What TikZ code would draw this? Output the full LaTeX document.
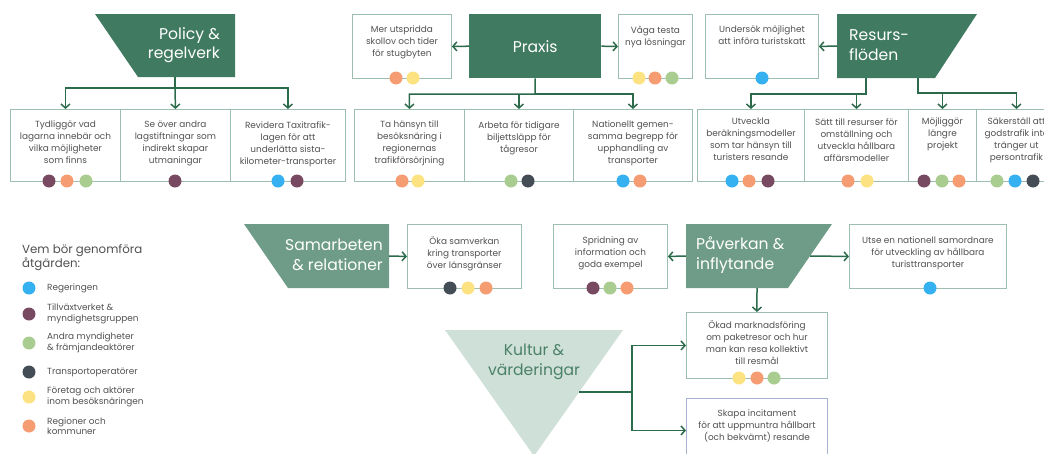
\documentclass[tikz,border=0pt]{standalone}
\usepackage{fontspec}
\setmainfont{Poppins}
\usetikzlibrary{arrows.meta, calc}

\definecolor{darkgreen}{HTML}{3F7A61}
\definecolor{midgreen}{HTML}{6F9C88}
\definecolor{lightgreen}{HTML}{CEE0D7}
\definecolor{kulturtext}{HTML}{4C8169}
\definecolor{conngreen}{HTML}{2C6A4C}
\definecolor{boxline}{HTML}{9DBFAF}
\definecolor{skapaline}{HTML}{A8B2D2}
\definecolor{txtgrey}{HTML}{505050}
\definecolor{cblue}{HTML}{35B0F0}
\definecolor{cpurple}{HTML}{774A62}
\definecolor{cgreen}{HTML}{A9CD91}
\definecolor{cdark}{HTML}{444C55}
\definecolor{cyellow}{HTML}{FCE281}
\definecolor{corange}{HTML}{F69C72}

\begin{document}
\begin{tikzpicture}[x=1pt, y=-1pt,
  every node/.style={inner sep=0pt},
  conn/.style={draw=conngreen, line width=1.5pt, -{Straight Barb[length=4pt,width=9pt]}},
  actbox/.style={draw=boxline, line width=0.9pt, minimum height=#1, anchor=north west},
  actbox/.default=72pt,
  acttext/.style={anchor=north, align=center, text=txtgrey, font=\fontsize{8.9}{12}\selectfont},
  head/.style={text=white, font=\fontsize{15.6}{19.5}\selectfont},
  dot/.style={circle, fill=#1, minimum size=13pt},
  legtext/.style={anchor=west, align=left, text=txtgrey, font=\fontsize{8.9}{10.5}\selectfont}]
\useasboundingbox (0,0) rectangle (1044,453);
\clip (0,0) rectangle (1044,453);

% Policy & regelverk
\fill[darkgreen] (95,14) -- (235,14) -- (235,77) -- (138,77) -- cycle;
\node[head, anchor=east, align=right] (policy) at (220,45) {Policy \&\\regelverk};
\node[actbox, minimum width=110pt] (pb1) at (10,109) {};
\node[actbox, minimum width=110pt] (pb2) at (120,109) {};
\node[actbox, minimum width=115pt] (pb3) at (230,109) {};
\node[acttext] (pb1t) at ([yshift=-12pt]pb1.north) {Tydliggör vad\\lagarna innebär och\\vilka möjligheter\\som finns};
\node[acttext] (pb2t) at ([yshift=-12pt]pb2.north) {Se över andra\\lagstiftningar som\\indirekt skapar\\utmaningar};
\node[acttext] (pb3t) at ([yshift=-12pt]pb3.north) {Revidera Taxitrafik-\\lagen för att\\underlätta sista-\\kilometer-transporter};
\coordinate (policy-s) at (175,77);
\coordinate (policy-j) at (175,88);
\draw[conn] (policy-s) -- (policy-j) -| (pb1.north);
\draw[conn] (policy-j) -| (pb3.north);
\draw[conn] (policy-j) -- (pb2.north);

% Praxis
\node[head, fill=darkgreen, minimum width=132pt, minimum height=64pt, anchor=north west] (praxis) at (469,14) {Praxis};
\node[actbox=64pt, minimum width=99pt] (pl) at (352,14) {};
\node[actbox=64pt, minimum width=74pt] (pr) at (618,14) {};
\node[acttext] (plt) at ([yshift=-12pt]pl.north) {Mer utspridda\\skollov och tider\\för stugbyten};
\node[acttext] (prt) at ([yshift=-12pt]pr.north) {Våga testa\\nya lösningar};
\draw[conn] (praxis.west) -- (pl.east);
\draw[conn] (praxis.east) -- (pr.west);
\node[actbox, minimum width=110pt] (xb1) at (354,109) {};
\node[actbox, minimum width=109pt] (xb2) at (464,109) {};
\node[actbox, minimum width=119pt] (xb3) at (573,109) {};
\node[acttext] (xb1t) at ([yshift=-12pt]xb1.north) {Ta hänsyn till\\besöksnäring i\\regionernas\\trafikförsörjning};
\node[acttext] (xb2t) at ([yshift=-12pt]xb2.north) {Arbeta för tidigare\\biljettsläpp för\\tågresor};
\node[acttext] (xb3t) at ([yshift=-12pt]xb3.north) {Nationellt gemen-\\samma begrepp för\\upphandling av\\transporter};
\coordinate (praxis-j) at (535,94);
\draw[conn] (praxis.south) -- (praxis-j) -| (xb1.north);
\draw[conn] (praxis-j) -| (xb3.north);
\draw[conn] (xb2.north |- praxis-j) -- (xb2.north);

% Resursfloden
\fill[darkgreen] (837,14) -- (977,14) -- (935,78) -- (837,78) -- cycle;
\node[head, anchor=west, align=left] (resurs) at (849,45) {Resurs-\\flöden};
\node[actbox=64pt, minimum width=113pt] (rl) at (705,14) {};
\node[acttext] (rlt) at ([yshift=-12pt]rl.north) {Undersök möjlighet\\att införa turistskatt};
\coordinate (resurs-w) at (837,46);
\draw[conn] (resurs-w) -- (rl.east);
\node[actbox, minimum width=107pt] (rb1) at (697,109) {};
\node[actbox, minimum width=104pt] (rb2) at (804,109) {};
\node[actbox, minimum width=68pt] (rb3) at (908,109) {};
\node[actbox, minimum width=80pt] (rb4) at (976,109) {};
\node[acttext] (rb1t) at ([yshift=-9pt]rb1.north) {Utveckla\\beräkningsmodeller\\som tar hänsyn till\\turisters resande};
\node[acttext] (rb2t) at ([yshift=-9pt]rb2.north) {Sätt till resurser för\\omställning och\\utveckla hållbara\\affärsmodeller};
\node[acttext] (rb3t) at ([yshift=-9pt]rb3.north) {Möjliggör\\längre\\projekt};
\node[acttext] (rb4t) at ([yshift=-9pt]rb4.north) {Säkerställ att\\godstrafik inte\\tränger ut\\persontrafik};
\coordinate (resurs-s1) at (866,78);
\coordinate (resurs-j1) at (866,94);
\coordinate (resurs-s2) at (918,78);
\coordinate (resurs-j2) at (918,93);
\draw[conn] (resurs-s1) -- (resurs-j1) -| (rb1.north);
\draw[conn] (rb2.north |- resurs-j1) -- (rb2.north);
\draw[conn] (resurs-s2) -- (resurs-j2) -| (rb4.north);
\draw[conn] (rb3.north |- resurs-j2) -- (rb3.north);

% Samarbeten & relationer
\fill[midgreen] (244,224) -- (389,224) -- (389,288) -- (288,288) -- cycle;
\node[head, anchor=east, align=right] (samarb) at (383,255) {Samarbeten\\\& relationer};
\node[actbox=64pt, minimum width=114pt] (sa1) at (407,224) {};
\node[acttext] (sa1t) at ([yshift=-13pt]sa1.north) {Öka samverkan\\kring transporter\\över länsgränser};
\coordinate (samarb-e) at (389,256);
\draw[conn] (samarb-e) -- (sa1.west);

% Paverkan & inflytande
\fill[midgreen] (686,224) -- (832,224) -- (788,288) -- (686,288) -- cycle;
\node[head, anchor=west, align=left] (paverk) at (696,255) {Påverkan \&\\inflytande};
\node[actbox=64pt, minimum width=114pt] (pa1) at (553,224) {};
\node[actbox=64pt, minimum width=157pt] (pa2) at (849,224) {};
\node[actbox=66pt, minimum width=141pt] (pa3) at (686,312) {};
\node[acttext] (pa1t) at ([yshift=-13pt]pa1.north) {Spridning av\\information och\\goda exempel};
\node[acttext] (pa2t) at ([yshift=-13pt]pa2.north) {Utse en nationell samordnare\\för utveckling av hållbara\\turisttransporter};
\node[acttext] (pa3t) at ([yshift=-9pt]pa3.north) {Ökad marknadsföring\\om paketresor och hur\\man kan resa kollektivt\\till resmål};
\coordinate (paverk-w) at (686,256);
\coordinate (paverk-e) at (810,256);
\coordinate (paverk-s) at (757,288);
\draw[conn] (paverk-w) -- (pa1.east);
\draw[conn] (paverk-e) -- (pa2.west);
\draw[conn] (paverk-s) -- (pa3.north);

% Kultur & varderingar
\fill[lightgreen] (445,330) -- (623,330) -- (534,456) -- cycle;
\node[head, text=kulturtext, align=center] (kultur) at (534,362) {Kultur \&\\värderingar};
\node[actbox=64pt, draw=skapaline, minimum width=141pt] (ku1) at (686,398) {};
\node[acttext] (ku1t) at ([yshift=-12pt]ku1.north) {Skapa incitament\\för att uppmuntra hållbart\\(och bekvämt) resande};
\coordinate (kultur-e) at (579,392);
\coordinate (kultur-j) at (632,392);
\draw[conn] (kultur-e) -- (kultur-j) |- (pa3.west);
\draw[conn] (kultur-j) |- (ku1.west);

% dots for who does what
\foreach \x/\y/\c [count=\i] in {49/181/cpurple, 67/181/corange, 86/181/cgreen, 175/181/cpurple,
    278/181/cblue, 297/181/cpurple, 396/78/corange, 413/78/cyellow, 639/78/cyellow, 655/78/corange,
    672/78/cgreen, 402/181/corange, 418/181/cyellow, 511/181/cgreen, 528/181/cdark, 623/181/cblue,
    640/181/corange, 762/78/cblue, 732/181/cblue, 749/181/corange, 768/181/cpurple, 848/181/corange,
    867/181/cyellow, 924/181/cpurple, 942/181/cgreen, 959/181/corange, 997/181/cgreen, 1015/181/cblue,
    1033/181/cdark, 450/288/cdark, 468/288/cyellow, 486/288/corange, 593/288/cpurple, 610/288/cgreen,
    627/288/corange, 930/288/cblue, 739/378/cyellow, 757/378/corange, 774/378/cgreen}
  \node[dot=\c] (dot\i) at (\x,\y) {};

% legend
\node[anchor=west, align=left, text=txtgrey, font=\fontsize{11.8}{14}\selectfont] (legtitle) at (22,258) {Vem bör genomföra\\åtgärden:};
\foreach \y/\c/\t [count=\i] in {288/cblue/{Regeringen}, 314/cpurple/{Tillväxtverket \&\\myndighetsgruppen},
    343/cgreen/{Andra myndigheter\\\& främjandeaktörer}, 372/cdark/{Transportoperatörer},
    397/cyellow/{Företag och aktörer\\inom besöksnäringen}, 426/corange/{Regioner och\\kommuner}} {
  \node[dot=\c] (leg\i) at (29,\y) {};
  \node[legtext] (legt\i) at (47,\y) {\t};
}
\end{tikzpicture}
\end{document}
